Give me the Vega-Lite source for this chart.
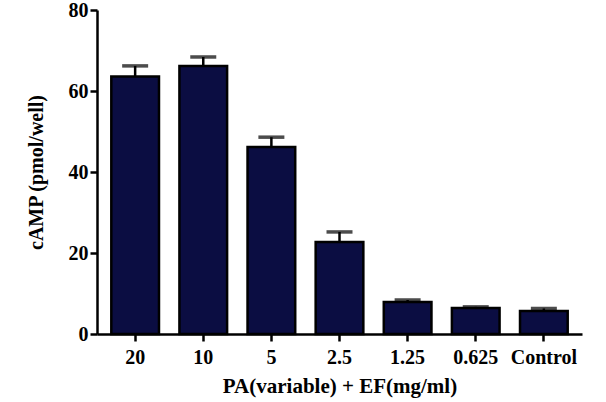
{
  "$schema": "https://vega.github.io/schema/vega-lite/v6.json",
  "width": 485,
  "height": 324,
  "autosize": {"type": "none"},
  "padding": {"left": 97, "top": 10, "right": 24, "bottom": 68},
  "background": "white",
  "config": {
    "view": {"stroke": null},
    "axis": {
      "grid": false,
      "domainColor": "black",
      "domainWidth": 2.5,
      "tickColor": "black",
      "tickWidth": 2.5,
      "tickSize": 7,
      "labelFont": "Liberation Serif",
      "labelFontWeight": "bold",
      "labelFontSize": 20,
      "labelColor": "black",
      "titleFont": "Liberation Serif",
      "titleFontWeight": "bold",
      "titleFontSize": 20,
      "titleColor": "black"
    }
  },
  "data": {
    "values": [
      {"dose": "20", "mean": 63.6, "upper": 66.2},
      {"dose": "10", "mean": 66.2, "upper": 68.4},
      {"dose": "5", "mean": 46.2, "upper": 48.6},
      {"dose": "2.5", "mean": 22.7, "upper": 25.2},
      {"dose": "1.25", "mean": 7.9, "upper": 8.4},
      {"dose": "0.625", "mean": 6.4, "upper": 6.7},
      {"dose": "Control", "mean": 5.7, "upper": 6.3}
    ]
  },
  "encoding": {
    "x": {
      "field": "dose",
      "type": "nominal",
      "sort": null,
      "scale": {"paddingInner": 0.3, "paddingOuter": 0.21},
      "axis": {"labelAngle": 0, "labelPadding": 6, "title": "PA(variable) + EF(mg/ml)", "titleFontSize": 21, "titlePadding": 8}
    }
  },
  "layer": [
    {
      "mark": {"type": "rule", "color": "black", "strokeWidth": 2.5},
      "encoding": {
        "y": {"field": "mean", "type": "quantitative"},
        "y2": {"field": "upper"}
      }
    },
    {
      "mark": {"type": "tick", "color": "black", "size": 26, "thickness": 3.5, "orient": "horizontal"},
      "encoding": {
        "y": {"field": "upper", "type": "quantitative"}
      }
    },
    {
      "mark": {"type": "bar", "fill": "#0b0d42", "stroke": "black", "strokeWidth": 2.5},
      "encoding": {
        "y": {
          "field": "mean",
          "type": "quantitative",
          "scale": {"domain": [0, 80], "nice": false},
          "axis": {"values": [0, 20, 40, 60, 80], "title": "cAMP (pmol/well)", "titlePadding": 22, "labelPadding": 2}
        }
      }
    }
  ]
}
